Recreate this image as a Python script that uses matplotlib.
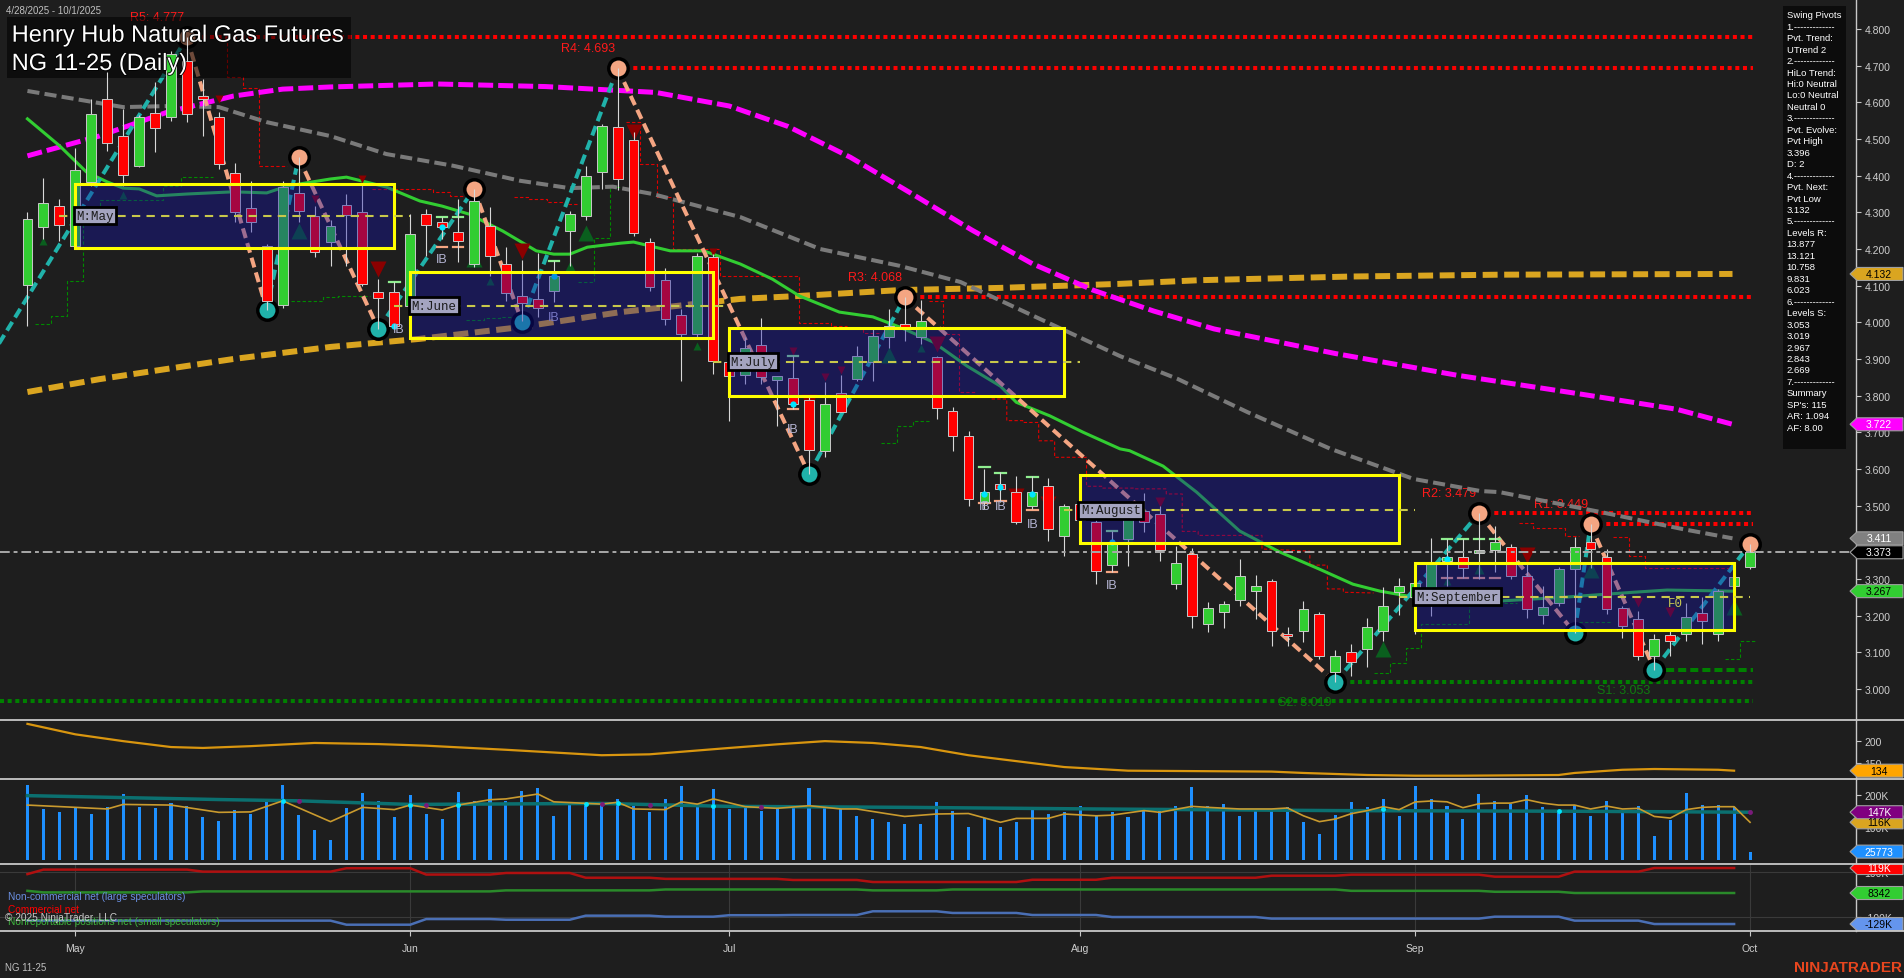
import numpy as np
import matplotlib
matplotlib.use("Agg")
import matplotlib.pyplot as plt
from matplotlib.patches import Rectangle, Polygon
from matplotlib.lines import Line2D
from matplotlib.transforms import Affine2D, Bbox, IdentityTransform
import matplotlib.patheffects as pe

plt.rcParams['font.family'] = ['Liberation Sans', 'DejaVu Sans']

W, H = 1904, 979
DPI = 100
BG = '#1e1e1e'
FG = '#cfcfcf'

# ---------------------------------------------------------------- data
date_range = "4/28/2025 - 10/1/2025"
title_1 = "Henry Hub Natural Gas Futures"
title_2 = "NG 11-25 (Daily)"
month_labels = ["May", "Jun", "Jul", "Aug", "Sep", "Oct"]
month_bars = [3, 24, 44, 66, 87, 108]

opens = [4.102, 4.259, 4.318, 4.209, 4.384, 4.609, 4.507, 4.426, 4.570, 4.559,
         4.714, 4.617, 4.559, 4.406, 4.311, 4.207, 4.047, 4.352, 4.291, 4.218,
         4.320, 4.302, 4.082, 4.082, 4.045, 4.295, 4.275, 4.247, 4.160, 4.264,
         4.159, 4.071, 4.065, 4.086, 4.250, 4.291, 4.409, 4.532, 4.498, 4.220,
         4.116, 4.020, 3.968, 4.178, 3.891, 3.856, 3.939, 3.843, 3.847, 3.789,
         3.648, 3.807, 3.846, 3.891, 3.960, 3.995, 3.959, 3.905, 3.757, 3.691,
         3.510, 3.559, 3.538, 3.500, 3.555, 3.417, 3.505, 3.456, 3.338, 3.410,
         3.486, 3.477, 3.286, 3.368, 3.177, 3.209, 3.244, 3.268, 3.295, 3.150,
         3.157, 3.205, 3.046, 3.102, 3.109, 3.157, 3.266, 3.250, 3.250, 3.350,
         3.359, 3.370, 3.380, 3.388, 3.309, 3.202, 3.235, 3.327, 3.400, 3.359,
         3.220, 3.191, 3.091, 3.147, 3.150, 3.207, 3.150, 3.280, 3.332]
highs = [4.300, 4.394, 4.336, 4.475, 4.609, 4.682, 4.582, 4.565, 4.656, 4.740,
         4.777, 4.664, 4.573, 4.435, 4.386, 4.215, 4.386, 4.450, 4.318, 4.280,
         4.350, 4.377, 4.118, 4.110, 4.295, 4.309, 4.286, 4.336, 4.364, 4.314,
         4.205, 4.170, 4.190, 4.168, 4.305, 4.427, 4.541, 4.693, 4.520, 4.229,
         4.147, 4.036, 4.190, 4.186, 3.900, 3.959, 4.012, 3.855, 3.907, 3.800,
         3.838, 3.856, 3.936, 3.982, 4.036, 4.068, 4.060, 3.909, 3.768, 3.705,
         3.600, 3.591, 3.582, 3.582, 3.575, 3.505, 3.530, 3.464, 3.432, 3.480,
         3.536, 3.500, 3.391, 3.386, 3.238, 3.241, 3.355, 3.311, 3.300, 3.168,
         3.241, 3.209, 3.107, 3.123, 3.194, 3.277, 3.302, 3.310, 3.411, 3.409,
         3.409, 3.479, 3.445, 3.396, 3.345, 3.282, 3.332, 3.414, 3.449, 3.382,
         3.227, 3.214, 3.150, 3.159, 3.236, 3.250, 3.273, 3.341, 3.396]
lows = [3.990, 4.227, 4.223, 4.200, 4.373, 4.468, 4.373, 4.423, 4.465, 4.550,
        4.546, 4.507, 4.418, 4.273, 4.246, 4.035, 4.040, 4.275, 4.177, 4.155,
        4.155, 4.100, 3.982, 3.985, 4.030, 4.182, 4.227, 4.164, 4.150, 4.127,
        4.059, 4.003, 4.014, 4.055, 4.155, 4.280, 4.364, 4.360, 4.236, 4.086,
        3.993, 3.841, 3.955, 3.859, 3.732, 3.832, 3.832, 3.718, 3.764, 3.586,
        3.632, 3.755, 3.840, 3.841, 3.930, 3.950, 3.940, 3.736, 3.650, 3.500,
        3.490, 3.509, 3.450, 3.491, 3.404, 3.364, 3.440, 3.286, 3.320, 3.335,
        3.427, 3.350, 3.273, 3.166, 3.155, 3.166, 3.227, 3.191, 3.117, 3.117,
        3.127, 3.082, 3.019, 3.036, 3.059, 3.132, 3.202, 3.150, 3.200, 3.280,
        3.302, 3.300, 3.320, 3.300, 3.193, 3.177, 3.227, 3.153, 3.330, 3.205,
        3.138, 3.080, 3.053, 3.090, 3.132, 3.123, 3.132, 3.260, 3.327]
closes = [4.282, 4.325, 4.266, 4.416, 4.567, 4.488, 4.402, 4.559, 4.529, 4.732,
          4.568, 4.609, 4.432, 4.300, 4.275, 4.059, 4.368, 4.304, 4.191, 4.264,
          4.293, 4.105, 4.066, 3.991, 4.241, 4.266, 4.259, 4.223, 4.330, 4.180,
          4.080, 4.053, 4.038, 4.127, 4.295, 4.398, 4.535, 4.391, 4.245, 4.096,
          4.009, 3.968, 4.180, 3.895, 3.855, 3.929, 3.850, 3.853, 3.777, 3.653,
          3.777, 3.755, 3.907, 3.962, 3.991, 3.982, 4.005, 3.766, 3.691, 3.518,
          3.537, 3.545, 3.456, 3.537, 3.436, 3.498, 3.460, 3.323, 3.400, 3.470,
          3.456, 3.380, 3.345, 3.198, 3.220, 3.231, 3.307, 3.280, 3.157, 3.144,
          3.218, 3.089, 3.089, 3.073, 3.168, 3.226, 3.280, 3.290, 3.343, 3.360,
          3.329, 3.380, 3.400, 3.309, 3.218, 3.223, 3.327, 3.387, 3.382, 3.218,
          3.173, 3.091, 3.136, 3.132, 3.196, 3.186, 3.268, 3.305, 3.373]

# moving averages: (bar, value)
ma_gray = [(0, 4.631), (6, 4.587), (9, 4.590), (12, 4.587), (15, 4.546), (19, 4.508),
           (22.5, 4.459), (26.7, 4.427), (30.9, 4.386), (34, 4.366), (36.7, 4.370),
           (39.2, 4.350), (44.7, 4.287), (49.7, 4.200), (54.7, 4.154), (58.5, 4.110),
           (63.1, 4.017), (68.5, 3.908), (72.1, 3.846), (76.5, 3.755), (81.7, 3.655),
           (86.9, 3.573), (91.1, 3.540), (92.3, 3.537), (98.6, 3.483), (103.8, 3.436),
           (106.9, 3.411)]
ma_magenta = [(0, 4.454), (4.5, 4.508), (8.75, 4.573), (12.9, 4.617), (16, 4.636),
              (19, 4.642), (25.7, 4.650), (32.5, 4.643), (39.4, 4.627), (44, 4.590),
              (47.7, 4.534), (51.6, 4.450), (55.4, 4.352), (59.2, 4.252), (63, 4.160),
              (66.8, 4.088), (70.6, 4.031), (74.4, 3.982), (82, 3.915), (89.6, 3.856),
              (97.3, 3.805), (103.4, 3.763), (106.9, 3.722)]
ma_orange = [(0, 3.810), (4.5, 3.845), (8.75, 3.873), (12.9, 3.900), (19, 3.933),
             (24.6, 3.955), (30.9, 3.987), (37.2, 4.028), (44.7, 4.064), (48.4, 4.072),
             (54.7, 4.088), (61, 4.094), (68.5, 4.105), (73.5, 4.115), (83, 4.125),
             (92.3, 4.130), (106.9, 4.132)]
ma_green = [(0, 4.555), (2, 4.482), (3.7, 4.410), (5, 4.383), (6, 4.366), (7, 4.364),
            (8.1, 4.345), (10, 4.350), (12.9, 4.356), (15, 4.353), (16.3, 4.372),
            (19, 4.391), (20, 4.396), (22.5, 4.369), (24.6, 4.331), (26, 4.317),
            (27.7, 4.295), (29.8, 4.249), (31.9, 4.195), (33, 4.186), (34, 4.186),
            (35.1, 4.205), (37.2, 4.216), (38, 4.219), (40.3, 4.195), (42.4, 4.195),
            (44.7, 4.159), (46.7, 4.118), (48.4, 4.072), (50.9, 4.028), (53, 4.015),
            (54.7, 3.987), (56.8, 3.946), (58.9, 3.881), (61, 3.826), (62, 3.782),
            (64.1, 3.745), (66.2, 3.700), (68.5, 3.655), (69.1, 3.650), (71.2, 3.608),
            (73.3, 3.537), (76, 3.431), (78.5, 3.374), (81, 3.327), (83.1, 3.286),
            (84.8, 3.267), (86.9, 3.251), (92.3, 3.240), (96.5, 3.251), (100.7, 3.264),
            (102.8, 3.270), (106.9, 3.267)]

# swing pivots (bar, price), alternating low / high
pivot_bars = [-3, 10, 15, 17, 22, 28, 31, 37, 49, 55, 82, 91, 97, 98, 102, 108]
pivot_prices = [3.856, 4.777, 4.035, 4.450, 3.982, 4.364, 4.002, 4.693, 3.586,
                4.068, 3.019, 3.479, 3.153, 3.449, 3.053, 3.396]

res_names = ["R5", "R4", "R3", "R2", "R1"]
res_values = [4.777, 4.693, 4.068, 3.479, 3.449]
res_bars = [10, 37, 55, 91, 98]
sup_names = ["S2", "S1"]
sup_values = [3.019, 3.053]
sup_bars = [82, 102]
extra_support = 2.967
last_price = 3.373

# monthly boxes
box_names = ["May", "June", "July", "August", "September"]
box_start = [3, 24, 44, 66, 87]
box_end = [23, 43, 65, 86, 107]
box_high = [4.377, 4.137, 3.985, 3.584, 3.344]
box_low = [4.202, 3.957, 3.800, 3.397, 3.162]
box_mid = [4.291, 4.045, 3.893, 3.488, 3.252]

# trailing stop steps (bar, price)
red_stops = [
    [(12.5, 4.778), (12.5, 4.669), (13.5, 4.669), (13.5, 4.639), (14.5, 4.639), (14.5, 4.426), (16.3, 4.426)],
    [(21.6, 4.364), (25.4, 4.364), (25.4, 4.355), (26.5, 4.355), (26.5, 4.345), (27.3, 4.345)],
    [(30.5, 4.341), (31.4, 4.341), (31.4, 4.336), (32.6, 4.336), (32.6, 4.327), (33.8, 4.327), (33.8, 4.323), (34.6, 4.323)],
    [(37.5, 4.546), (38.4, 4.546), (38.4, 4.432), (39.5, 4.432), (39.5, 4.341), (40.5, 4.341), (40.5, 4.200),
     (43.4, 4.200), (43.4, 4.127), (48.4, 4.127), (48.4, 3.998), (50.4, 3.998), (50.4, 3.990), (51.4, 3.990)],
    [(52.4, 3.982), (52.4, 3.971), (53.5, 3.971)],
    [(56.5, 4.057), (57.4, 4.057), (57.4, 3.968), (58.4, 3.968), (58.4, 3.811), (59.4, 3.811)],
    [(60.45, 3.791), (61.4, 3.791), (61.4, 3.732), (62.4, 3.732), (62.4, 3.727), (63.4, 3.727), (63.4, 3.677),
     (64.4, 3.677), (64.4, 3.632), (66.4, 3.632), (66.4, 3.553), (67.4, 3.553), (67.4, 3.548), (69.4, 3.548),
     (69.4, 3.546), (71.4, 3.546), (71.4, 3.532), (72.4, 3.532), (72.4, 3.430), (73.4, 3.430), (73.4, 3.419),
     (77.4, 3.419), (77.4, 3.382), (80.4, 3.376), (80.4, 3.338), (81.5, 3.338), (81.5, 3.273), (82.5, 3.273),
     (82.5, 3.264), (84.4, 3.262)],
    [(93.5, 3.452), (94.4, 3.452), (94.4, 3.438), (96.4, 3.438), (96.4, 3.417), (97.3, 3.417)],
    [(99.4, 3.414), (100.4, 3.414), (100.4, 3.362), (101.4, 3.362), (101.4, 3.329), (107.0, 3.329)],
]
green_stops = [
    [(0.47, 3.996), (1.5, 3.996), (1.5, 4.018), (2.5, 4.018), (2.5, 4.114), (3.5, 4.114), (3.5, 4.277),
     (4.55, 4.277), (4.55, 4.334), (8.5, 4.334), (8.5, 4.373), (9.6, 4.373), (9.6, 4.396), (11.65, 4.396)],
    [(16.5, 4.059), (18.5, 4.059), (18.5, 4.069), (19.5, 4.069), (19.5, 4.073), (21.5, 4.073)],
    [(27.5, 4.006), (28.6, 4.006), (28.6, 4.011), (29.6, 4.011), (29.6, 4.014), (30.7, 4.014)],
    [(34.5, 4.109), (35.5, 4.109), (35.5, 4.229), (36.5, 4.229), (36.5, 4.368), (37.2, 4.368)],
    [(53.5, 3.671), (54.5, 3.671), (54.5, 3.717), (55.5, 3.717), (55.5, 3.730), (56.5, 3.730)],
    [(84.4, 3.044), (85.4, 3.044), (85.4, 3.071), (86.4, 3.071), (86.4, 3.113), (87.4, 3.113), (87.4, 3.177),
     (90.4, 3.177), (90.4, 3.235), (93.4, 3.235)],
    [(97.3, 3.182), (99.3, 3.182)],
    [(106.4, 3.082), (107.4, 3.082), (107.4, 3.132), (108.4, 3.132)],
]

# signal triangles (bar, price, size)
up_tri = [(1, 4.223, 6), (6, 4.347, 6), (17, 4.250, 11), (28, 4.173, 11), (29, 4.114, 6),
          (34, 4.155, 7), (35, 4.245, 11), (42, 3.936, 6), (54, 3.911, 11), (56, 3.930, 6),
          (69, 3.418, 7), (85, 3.109, 11), (89, 3.295, 6), (91, 3.327, 7), (98, 3.325, 11),
          (107, 3.223, 11)]
down_tri = [(12, 4.609, 6), (18, 4.336, 6), (21, 4.391, 6), (22, 4.145, 11), (31, 4.195, 11),
            (38, 4.518, 11), (43, 4.191, 6), (48, 3.923, 6), (49, 3.782, 11), (50, 3.850, 6),
            (51, 3.870, 6), (57, 3.941, 11), (62, 3.527, 11), (64, 3.505, 11), (71, 3.509, 7),
            (94, 3.365, 11), (101, 3.238, 7), (103, 3.210, 7)]
ib_marks = [(23.3, 3.982), (26, 4.173), (33, 4.014), (48, 3.709), (60, 3.498), (61, 3.500),
            (63, 3.450), (68, 3.284)]
# inside-bar range dashes (bar, high mark, low mark) and cyan dots (bar, price)
ib_ranges = [(23, 4.109, None), (26, 4.286, 4.206), (27, 4.286, 4.206), (33, 4.168, None),
             (48, 3.909, 3.764), (60, 3.605, 3.507), (61, 3.590, 3.514), (63, 3.578, 3.489),
             (68, 3.432, 3.320), (89, 3.409, 3.303), (90, 3.409, 3.303), (91, 3.409, 3.303),
             (92, 3.409, 3.303)]
cyan_dots = [(23, 3.991), (26, 4.261), (33, 4.127), (48, 3.777), (60, 3.532), (61, 3.550),
             (63, 3.532), (68, 3.400), (89, 3.355)]

# sub panel 2 (orange oscillator)
osc_line = [(0, 237), (3, 214), (6, 199), (9, 186), (11, 184), (14, 188), (18, 195), (22, 192.5),
            (25, 189), (30, 180), (36, 168), (39, 170), (44, 184), (47, 192), (50, 199), (53, 195),
            (56, 186), (59, 168), (65, 142), (69, 134), (78, 132), (80, 129), (84, 124.5), (87, 123),
            (90, 123), (96, 124.5), (97, 129), (100, 136), (102, 137.7), (106, 136), (107, 134)]

# volume (thousands)
volume_k = [230.8, 157, 146.6, 159, 141.5, 162, 203, 164, 160, 175,
            167, 133, 120, 154, 141.5, 184.6, 230.8, 138.5, 92, 61.5,
            160, 206, 181.5, 132, 200, 141.5, 126, 209, 181.5, 218,
            181.5, 212, 221.5, 135, 172, 166, 169, 188, 167, 149,
            188, 229, 169, 218, 157, 167, 152, 157, 161, 220,
            167, 157, 136, 126, 116, 111, 111, 177.5, 152, 100,
            128, 100, 116, 161, 141.5, 146.6, 165, 136, 146.6, 131,
            157, 157, 167, 223.6, 167, 172, 136, 152, 157, 162,
            116, 80, 138.5, 177.5, 163, 187.7, 135, 227.7, 187.7, 166,
            126, 203, 181.5, 173, 200, 163, 153, 169, 135, 181.5,
            144.6, 166, 74, 123, 205, 169, 169, 162, 25.773]
vol_avg_teal = [(0, 198), (6, 192), (12, 186), (17, 182), (24, 171), (36, 174), (44, 165),
                (55, 162), (67, 157), (82, 152), (97, 150), (108, 147)]
vol_avg_orange = [(0, 169), (3, 162), (5, 157), (6, 171), (9, 169), (12, 146.6), (14, 148),
                  (16, 182), (19, 118), (21, 162), (23, 155), (24, 169), (26, 154), (27, 169),
                  (29, 185.5), (30, 188), (32, 203), (33, 179), (36, 172), (37, 177.5), (38, 157),
                  (40, 155), (41, 179), (42, 172), (43, 188), (45, 164), (47, 159), (49, 167),
                  (51, 157), (52, 157), (54, 141.5), (55, 134), (57, 141.5), (59, 143), (61, 116),
                  (62, 128), (64, 128), (65, 141.5), (67, 136), (68, 138), (70, 152), (71, 146.6),
                  (73, 165), (74, 162), (76, 157), (78, 157), (79, 160), (80, 136), (81, 118),
                  (82, 126), (83, 142.5), (84, 152), (85, 164), (86, 155), (87, 178.5), (88, 181.5),
                  (89, 179), (90, 161), (91, 173), (92, 175), (93, 175), (94, 185.5), (95, 175),
                  (96, 169), (97, 169), (98, 157), (99, 166), (100, 157), (101, 159), (102, 134),
                  (103, 129), (104, 155), (105, 162), (106, 164), (107, 164), (108, 116)]
vol_cross_dots = [(16, 182), (24, 170), (27, 170), (35, 173), (37, 174), (43, 166), (85, 158),
                  (96, 150)]
vol_purple_dots = [(17, 180), (25, 170), (36, 173), (39, 170), (46, 164), (108, 147)]

# COT weekly values (thousands) starting at given bars
cot_week_start = [0, 1, 6, 11, 15, 20, 25, 30, 35, 40, 44, 48, 53, 58, 63, 68, 73, 78, 83, 88, 92, 97, 102]
cot_commercial = [92, 112, 112, 103, 103, 118, 90, 97, 76, 71, 71, 66, 57, 57, 67, 76, 76, 85, 89.6,
                  89.6, 80.6, 103, 119]
cot_noncommercial = [-114, -114, -114, -114, -114, -132, -107, -110, -92, -96.5, -90, -89, -72.6, -80,
                     -89, -98, -98, -105, -105, -105, -96.5, -114, -129]
cot_nonreportable = [18, 11, 11, 15.5, 15.5, 15.5, 15.5, 20, 20, 24, 24, 24, 20, 24, 24, 24, 24, 24,
                     18, 18, 13.8, 8.342, 8.342]
cot_last_bar = 107

info_lines = ["Swing Pivots", "1.-------------", "Pvt. Trend:", "UTrend 2", "2.-------------",
              "HiLo Trend:", "Hi:0 Neutral", "Lo:0 Neutral", "Neutral 0", "3.-------------",
              "Pvt. Evolve:", "Pvt High", "3.396", "D: 2", "4.-------------", "Pvt. Next:",
              "Pvt Low", "3.132", "5.-------------", "Levels R:", "13.877", "13.121", "10.758",
              "9.831", "6.023", "6.-------------", "Levels S:", "3.053", "3.019", "2.967",
              "2.843", "2.669", "7.-------------", "Summary", "SP's: 115", "AR: 1.094", "AF: 8.00"]

main_tags = [(4.132, "4.132", '#daa520', 'black'), (3.722, "3.722", '#ff00ff', 'white'),
             (3.411, "3.411", '#808080', 'white'), (3.373, "3.373", '#000000', 'white'),
             (3.267, "3.267", '#32cd32', 'black')]
osc_tags = [(134, "134", '#ffa500', 'black')]
vol_tags = [(116000, "116K", '#daa520', 'black'), (147000, "147K", '#800080', 'white'),
            (25773, "25773", '#1e90ff', 'white')]
cot_tags = [(119000, "119K", '#ff0000', 'white'), (8342, "8342", '#32cd32', 'black'),
            (-129000, "-129K", '#6495ed', 'black')]

# ---------------------------------------------------------------- layout
BAR_PX = 15.95
FIRST_PX = 27.45
AX_RIGHT = 1856
XMIN = -FIRST_PX / BAR_PX
XMAX = (AX_RIGHT - FIRST_PX) / BAR_PX

fig = plt.figure(figsize=(W / DPI, H / DPI), dpi=DPI, facecolor=BG)
IMG = Affine2D().scale(1, -1).translate(0, H)   # image pixels -> display


def add_panel(top, bottom):
    a = fig.add_axes([0, 1 - bottom / H, AX_RIGHT / W, (bottom - top) / H])
    a.set_facecolor(BG)
    for s in ['top', 'bottom', 'left']:
        a.spines[s].set_visible(False)
    a.spines['right'].set_color('#c8c8c8')
    a.spines['right'].set_linewidth(1.0)
    a.yaxis.tick_right()
    a.tick_params(axis='y', colors='#c8c8c8', labelcolor=FG, labelsize=7.5,
                  length=3.6, width=0.8, pad=2.5)
    a.set_xticks([])
    return a


ax = add_panel(0, 721)
ax2 = add_panel(721, 780)
ax3 = add_panel(780, 865)
ax4 = add_panel(865, 932)
LIMS = {ax: (2.9156, 4.8818), ax2: (115.7, 245.5), ax3: (-12300, 249200), ax4: (-159900, 136800)}


def apply_limits():
    for a, lim in LIMS.items():
        a.set_xlim(XMIN, XMAX)
        a.set_ylim(*lim)


apply_limits()

# ---------------------------------------------------------------- main panel
n = len(opens)
x = np.arange(n)

# level lines
for name, v, b in zip(res_names, res_values, res_bars):
    ax.plot([b, 108.2], [v, v], color='#ff0000', lw=2.9, ls=(0, (1, 0.9)),
            dash_capstyle='butt', zorder=2)
    ax.annotate(f"{name}: {v:.3f}", xy=(b, v), xytext=(-57, 20), textcoords='offset pixels',
                ha='left', va='center', color='#ff1a1a', fontsize=9, zorder=2.5)
for name, v, b in zip(sup_names, sup_values, sup_bars):
    style = (0, (2, 1)) if name == "S1" else (0, (1, 0.9))
    ax.plot([b, 108.2], [v, v], color='#008000', lw=2.9, ls=style,
            dash_capstyle='butt', zorder=2)
    ax.annotate(f"{name}: {v:.3f}", xy=(b, v), xytext=(-57, -20), textcoords='offset pixels',
                ha='left', va='center', color='#0f7a0f', fontsize=9, zorder=2.5)
ax.plot([XMIN, 108.2], [extra_support, extra_support], color='#008000', lw=2.9,
        ls=(0, (1, 0.9)), dash_capstyle='butt', zorder=2)

# trailing stops
for seg in red_stops:
    sx, sy = zip(*seg)
    ax.plot(sx, sy, color='#e00000', lw=0.8, ls=(0, (3, 2)), zorder=2.2)
for seg in green_stops:
    sx, sy = zip(*seg)
    ax.plot(sx, sy, color='#008a00', lw=0.8, ls=(0, (3, 2)), zorder=2.2)

# moving averages
mx, my = zip(*ma_orange)
ax.plot(mx, my, color='#daa520', lw=4.3, ls=(0, (2.5, 1.1)), zorder=3)
mx, my = zip(*ma_gray)
ax.plot(mx, my, color='#7a7a7a', lw=2.9, ls=(0, (3, 1.3)), zorder=3)
mx, my = zip(*ma_magenta)
ax.plot(mx, my, color='#ff00ff', lw=3.6, ls=(0, (3, 1)), zorder=3)
mx, my = zip(*ma_green)
ax.plot(mx, my, color='#32cd32', lw=2.2, zorder=3.1)

# swing lines
for k in range(len(pivot_bars) - 1):
    up = pivot_prices[k + 1] > pivot_prices[k]
    ax.plot(pivot_bars[k:k + 2], pivot_prices[k:k + 2],
            color='#20b2aa' if up else '#f4a582', lw=2.9, ls=(0, (2.5, 1.3)),
            solid_capstyle='butt', zorder=3.5)
for k, (b, p) in enumerate(zip(pivot_bars, pivot_prices)):
    is_high = (k % 2 == 1)
    ax.plot(b, p, 'o', ms=14, mfc='#f4a582' if is_high else '#20b2aa', mec='black',
            mew=2.5, zorder=3.6)

# triangles and IB marks
for b, p, s in up_tri:
    ax.plot(b, p, '^', ms=s, color='#0a5f1e', mec='none', zorder=3.7)
for b, p, s in down_tri:
    ax.plot(b, p, 'v', ms=s, color='#8b0000', mec='none', zorder=3.7)
for b, hi, lo in ib_ranges:
    ax.plot([b - 0.33, b + 0.33], [hi, hi], color='#90ee90', lw=1.6, zorder=4.4)
    if lo is not None:
        ax.plot([b - 0.33, b + 0.33], [lo, lo], color='#f4a582', lw=1.6, zorder=4.4)
for b, p in ib_marks:
    ax.text(b, p, "IB", color='#b4b4d2', fontsize=9, ha='center', va='center', zorder=4.7)

# title box (under the candles)
ax.add_patch(Rectangle((6.7, 18.3), 344.3, 60.7, transform=IMG, fc='black', alpha=0.55,
                       ec='none', zorder=4))

# candles
for i in x:
    o, h, l, c = opens[i], highs[i], lows[i], closes[i]
    col = '#32cd32' if c >= o else '#ff0000'
    ax.vlines(i, l, h, color='#d8d8d8', lw=0.8, zorder=4.5)
    bot = min(o, c)
    ht = max(abs(c - o), 0.004)
    ax.add_patch(Rectangle((i - 0.31, bot), 0.62, ht, fc=col, ec='#c8c8c8', lw=0.7, zorder=4.6))
for b, p in cyan_dots:
    ax.plot(b, p, 'o', ms=4.5, color='#00e5ff', mec='none', zorder=4.65)

# last price line
ax.axhline(last_price, color='#a8a8a8', lw=1.4, ls=(0, (5, 2, 2, 2)), zorder=4.8)

# monthly boxes overlay
for name, b0, b1, hi, lo, mid in zip(box_names, box_start, box_end, box_high, box_low, box_mid):
    ax.add_patch(Rectangle((b0, lo), b1 - b0, hi - lo, fc=(20 / 255, 18 / 255, 172 / 255),
                           alpha=0.38, ec='none', zorder=6))
    ax.add_patch(Rectangle((b0, lo), b1 - b0, hi - lo, fill=False, ec='#ffff00', lw=2.2, zorder=7))
    ax.plot([b0 - 1, b1 + 1], [mid, mid], color='#c8c84b', lw=1.5, ls=(0, (4, 3)), zorder=7)
    ax.text(b0 + 0.05, mid, f"M:{name}", family=['Liberation Mono', 'DejaVu Sans Mono'],
            fontsize=9, color='#1c1c1c', ha='left', va='center', zorder=9,
            bbox=dict(boxstyle='square,pad=0.2', fc='#a4a4c0', ec='black', lw=2))
ax.text(103.3, 3.235, "F0", family=['Liberation Mono', 'DejaVu Sans Mono'], fontsize=9,
        color='#c8c850', ha='center', va='center', zorder=8)

# titles
ax.text(11.7, 42.7, title_1, transform=IMG, fontsize=17, color='white', va='baseline',
        zorder=10, path_effects=[pe.withStroke(linewidth=1.2, foreground='black')])
ax.text(11.7, 71.0, title_2, transform=IMG, fontsize=17, color='white', va='baseline',
        zorder=10, path_effects=[pe.withStroke(linewidth=1.2, foreground='black')])

# price axis ticks (labels fully covered by a tag in the reference are not shown)
tick_vals = np.round(np.arange(3.0, 4.81, 0.1), 1)
tag_vals = [t[0] for t in main_tags]
ax.set_yticks(tick_vals)
ax.set_yticklabels(["" if min(abs(v - tv) for tv in tag_vals) < 0.02 else f"{v:.3f}"
                    for v in tick_vals])

# ---------------------------------------------------------------- panel 2
ox, oy = zip(*osc_line)
ax2.plot(ox, oy, color='#d9960f', lw=1.6)
ax2.set_yticks([150, 200])
ax2.set_yticklabels(["150", "200"])

# ---------------------------------------------------------------- panel 3 (volume)
ax3.bar(x, np.array(volume_k) * 1000, width=0.19, color='#1e90ff', zorder=2)
tx, ty = zip(*vol_avg_teal)
ax3.plot(tx, np.array(ty) * 1000, color='#0b7070', lw=2.5, zorder=3)
vx, vy = zip(*vol_avg_orange)
ax3.plot(vx, np.array(vy) * 1000, color='#c99a2e', lw=1.2, zorder=4)
for b, v in vol_cross_dots:
    ax3.plot(b, v * 1000, 'o', ms=3.5, color='#00e5ff', mec='none', zorder=5)
for b, v in vol_purple_dots:
    ax3.plot(b, v * 1000, 'o', ms=3.5, color='#7a1a7a', mec='none', zorder=5)
ax3.set_yticks([100000, 200000])
ax3.set_yticklabels(["100K", "200K"])

# ---------------------------------------------------------------- panel 4 (COT)
def weekly_path(values):
    xs, ys = [], []
    for k, v in enumerate(values):
        s = cot_week_start[k]
        e = cot_week_start[k + 1] - 1 if k + 1 < len(cot_week_start) else cot_last_bar
        xs += [s, max(s, e)]
        ys += [v * 1000, v * 1000]
    return xs, ys


for b in month_bars:
    ax4.axvline(b, color='#3a3a3a', lw=0.8, zorder=1)
for v in (-100000, 100000):
    ax4.axhline(v, color='#3a3a3a', lw=0.8, zorder=1)
for vals, col in ((cot_commercial, '#b01010'), (cot_nonreportable, '#2a8a2a'),
                  (cot_noncommercial, '#4a6fb5')):
    px, py = weekly_path(vals)
    ax4.plot(px, py, color=col, lw=1.8, zorder=3)
ax4.set_yticks([-100000, 100000])
ax4.set_yticklabels(["-100K", "100K"])
ax4.set_xticks(month_bars)
ax4.set_xticklabels(month_labels)
ax4.tick_params(axis='x', colors='#c8c8c8', labelcolor=FG, labelsize=7.5, length=3.6,
                width=0.8, pad=5)

ax4.text(8, 897, "Non-commercial net (large speculators)", transform=IMG, color='#6a8ee0',
         fontsize=7.3, va='center', zorder=6)
ax4.text(8, 910, "Commercial net", transform=IMG, color='#ff0000', fontsize=7.3,
         va='center', zorder=6)
ax4.text(5, 918, "\u00a9 2025 NinjaTrader, LLC", transform=IMG, color='#c8c8c8',
         fontsize=7.3, va='center', zorder=7)
ax4.text(8, 922, "Nonreportable positions net (small speculators)", transform=IMG,
         color='#3cb43c', fontsize=7.3, va='center', zorder=6)

apply_limits()

# ---------------------------------------------------------------- separators & texts
for yy in (721, 780, 865, 932):
    fig.add_artist(Line2D([0, 1], [1 - yy / H, 1 - yy / H], transform=fig.transFigure,
                          color='#c8c8c8', lw=1.3))

fig.text(6 / W, 1 - 11 / H, date_range, fontsize=7, color='#c0c0c0', va='center')
fig.text(5 / W, 1 - 968 / H, "NG 11-25", fontsize=7, color='#c0c0c0', va='center')
fig.text(1902 / W, 1 - 968 / H, "NINJATRADER", fontsize=11, fontweight='bold',
         color='#e8461e', va='center', ha='right')

# info box
fig.add_artist(Rectangle((1782.7, 7.3), 63.3, 442.7, transform=IMG, fc='#0c0c0c', ec='none'))
for k, line in enumerate(info_lines):
    fig.text(1786.7 / W, 1 - (15.7 + 11.46 * k) / H, line, fontsize=6.8, color='white',
             va='center', ha='left')


# price tags
def draw_tag(axis, value, label, fc, tc):
    yd = axis.transData.transform((0, value))[1]
    bb = axis.bbox
    clip = Bbox.from_extents(1800, bb.y0, W, bb.y1)
    pts = [(1850, yd), (1857, yd + 6.5), (1903, yd + 6.5), (1903, yd - 6.5), (1857, yd - 6.5)]
    p = Polygon(pts, closed=True, transform=IdentityTransform(), fc=fc, ec='#a0a0a0', lw=0.8)
    fig.add_artist(p)
    p.set_clip_on(True)
    p.set_clip_box(clip)
    t = fig.text(1879 / W, yd / H, label, fontsize=7.5, color=tc, ha='center', va='center')
    t.set_clip_on(True)
    t.set_clip_box(clip)


for v, s, fc, tc in main_tags:
    draw_tag(ax, v, s, fc, tc)
for v, s, fc, tc in osc_tags:
    draw_tag(ax2, v, s, fc, tc)
for v, s, fc, tc in vol_tags:
    draw_tag(ax3, v, s, fc, tc)
for v, s, fc, tc in cot_tags:
    draw_tag(ax4, v, s, fc, tc)

fig.savefig("out.png", dpi=DPI, facecolor=BG)
